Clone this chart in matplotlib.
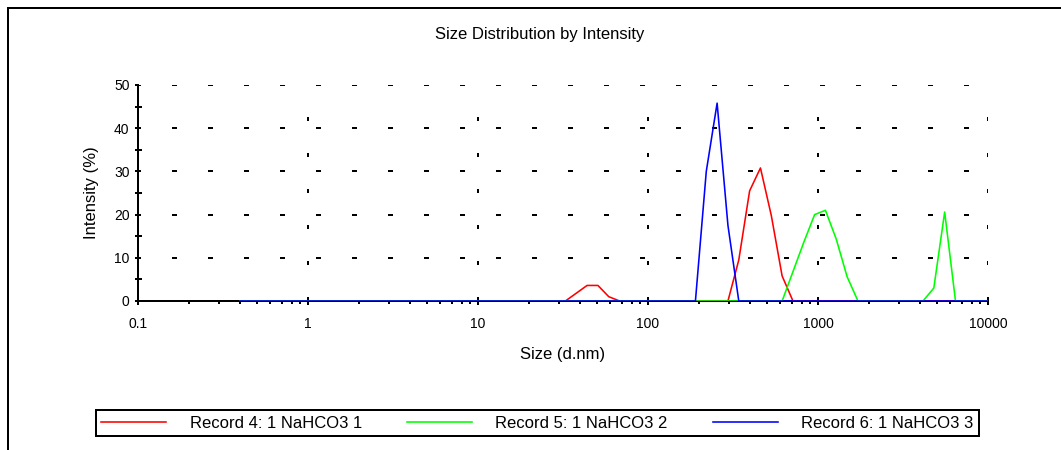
import matplotlib
matplotlib.use("Agg")
import matplotlib.pyplot as plt
from matplotlib.lines import Line2D
from matplotlib.ticker import FixedLocator, NullFormatter, LogLocator

plt.rcParams['font.family'] = ['Liberation Sans', 'DejaVu Sans']
plt.rcParams['lines.scale_dashes'] = False

# ---- data ----
sizes = [0.4, 0.4632, 0.5365, 0.6213, 0.7195, 0.8332, 0.9649, 1.117, 1.294, 1.499,
         1.736, 2.010, 2.328, 2.696, 3.122, 3.615, 4.187, 4.849, 5.615, 6.503,
         7.531, 8.721, 10.10, 11.70, 13.54, 15.69, 18.17, 21.04, 24.36, 28.21,
         32.67, 37.84, 43.82, 50.75, 58.77, 68.06, 78.82, 91.28, 105.7, 122.4,
         141.8, 164.2, 190.1, 220.2, 255.0, 295.3, 342.0, 396.1, 458.7, 531.2,
         615.1, 712.4, 825.0, 955.4, 1106, 1281, 1484, 1718, 1990, 2305,
         2669, 3091, 3580, 4145, 4801, 5560, 6439, 7456, 8635, 10000]

record4 = [0, 0, 0, 0, 0, 0, 0, 0, 0, 0,
           0, 0, 0, 0, 0, 0, 0, 0, 0, 0,
           0, 0, 0, 0, 0, 0, 0, 0, 0, 0,
           0, 1.8, 3.6, 3.6, 1.0, 0, 0, 0, 0, 0,
           0, 0, 0, 0, 0, 0, 9.5, 25.5, 30.8, 19.8,
           5.8, 0, 0, 0, 0, 0, 0, 0, 0, 0,
           0, 0, 0, 0, 0, 0, 0, 0, 0, 0]

record5 = [0, 0, 0, 0, 0, 0, 0, 0, 0, 0,
           0, 0, 0, 0, 0, 0, 0, 0, 0, 0,
           0, 0, 0, 0, 0, 0, 0, 0, 0, 0,
           0, 0, 0, 0, 0, 0, 0, 0, 0, 0,
           0, 0, 0, 0, 0, 0, 0, 0, 0, 0,
           0, 6.8, 13.6, 20.0, 21.0, 14.3, 5.6, 0, 0, 0,
           0, 0, 0, 0, 3.0, 20.6, 0, 0, 0, 0]

record6 = [0, 0, 0, 0, 0, 0, 0, 0, 0, 0,
           0, 0, 0, 0, 0, 0, 0, 0, 0, 0,
           0, 0, 0, 0, 0, 0, 0, 0, 0, 0,
           0, 0, 0, 0, 0, 0, 0, 0, 0, 0,
           0, 0, 0, 30.0, 45.8, 17.5, 0, 0, 0, 0,
           0, 0, 0, 0, 0, 0, 0, 0, 0, 0,
           0, 0, 0, 0, 0, 0, 0, 0, 0, 0]

series_labels = ["Record 4: 1 NaHCO3 1", "Record 5: 1 NaHCO3 2", "Record 6: 1 NaHCO3 3"]
series_colors = ["#ff0000", "#00ff00", "#0000ff"]

x_ticks = [0.1, 1, 10, 100, 1000, 10000]
x_tick_labels = ["0.1", "1", "10", "100", "1000", "10000"]
y_ticks = [0, 10, 20, 30, 40, 50]

title = "Size Distribution by Intensity"
xlabel = "Size (d.nm)"
ylabel = "Intensity (%)"

# ---- figure ----
W, H = 1061, 450
DPI = 100
px = 72.0 / DPI  # points per pixel
fig = plt.figure(figsize=(W / DPI, H / DPI), dpi=DPI)
ax = fig.add_axes([138 / W, (H - 301) / H, 850 / W, 216 / H])

lines = []
for vals, lab, col, z in zip([record4, record5, record6], series_labels, series_colors, [3, 4, 5]):
    ln, = ax.plot(sizes, vals, color=col, lw=1.6 * px, label=lab, zorder=z)
    lines.append(ln)

ax.set_xscale('log')
ax.set_xlim(0.1, 10000)
ax.set_ylim(0, 50)
ax.set_xticks(x_ticks)
ax.set_xticklabels(x_tick_labels)
ax.xaxis.set_minor_locator(LogLocator(base=10, subs=[2, 3, 4, 5, 6, 7, 8, 9], numticks=20))
ax.xaxis.set_minor_formatter(NullFormatter())
ax.set_yticks(y_ticks)
ax.yaxis.set_minor_locator(FixedLocator([5, 15, 25, 35, 45]))

for s in ['top', 'right']:
    ax.spines[s].set_visible(False)
for s in ['left', 'bottom']:
    ax.spines[s].set_linewidth(2 * px)
    ax.spines[s].set_color('black')
    ax.spines[s].set_zorder(2)

ax.tick_params(axis='x', which='major', direction='inout', length=8 * px, width=2 * px,
               pad=9, labelsize=10)
ax.tick_params(axis='x', which='minor', direction='out', length=3 * px, width=2 * px)
ax.tick_params(axis='y', which='major', direction='out', length=3 * px, width=2 * px,
               pad=4, labelsize=10)
ax.tick_params(axis='y', which='minor', direction='inout', length=7 * px, width=2 * px)

ax.grid(axis='y', which='major', color='black', lw=2 * px,
        linestyle=(2 * px, (5 * px, 31 * px)))
ax.grid(axis='x', which='major', color='black', lw=2 * px,
        linestyle=(0, (4 * px, 32 * px)))
ax.set_axisbelow(True)

ax.set_xlabel(xlabel, fontsize=12, labelpad=11.5)
ax.set_ylabel(ylabel, fontsize=12, labelpad=11)

fig.text(539.5 / W, 1 - 34 / H, title, ha='center', va='center', fontsize=12)

# legend
leg = fig.legend(handles=lines, labels=series_labels, loc='lower left',
                 bbox_to_anchor=(96 / W, (H - 436) / H, (979 - 96) / W, 28 / H),
                 mode='expand', ncol=3, borderaxespad=0, fontsize=12,
                 handlelength=3.9, handletextpad=1.4, fancybox=False,
                 framealpha=1, edgecolor='black', borderpad=0.32)
leg.get_frame().set_linewidth(2 * px)

# outer frame
fig.add_artist(Line2D([8 / W, 8 / W], [0, 1 - 7.5 / H], transform=fig.transFigure,
                      color='black', lw=2 * px))
fig.add_artist(Line2D([8 / W, 1], [1 - 7.5 / H, 1 - 7.5 / H], transform=fig.transFigure,
                      color='black', lw=2 * px))

fig.savefig("out.png", dpi=DPI)
